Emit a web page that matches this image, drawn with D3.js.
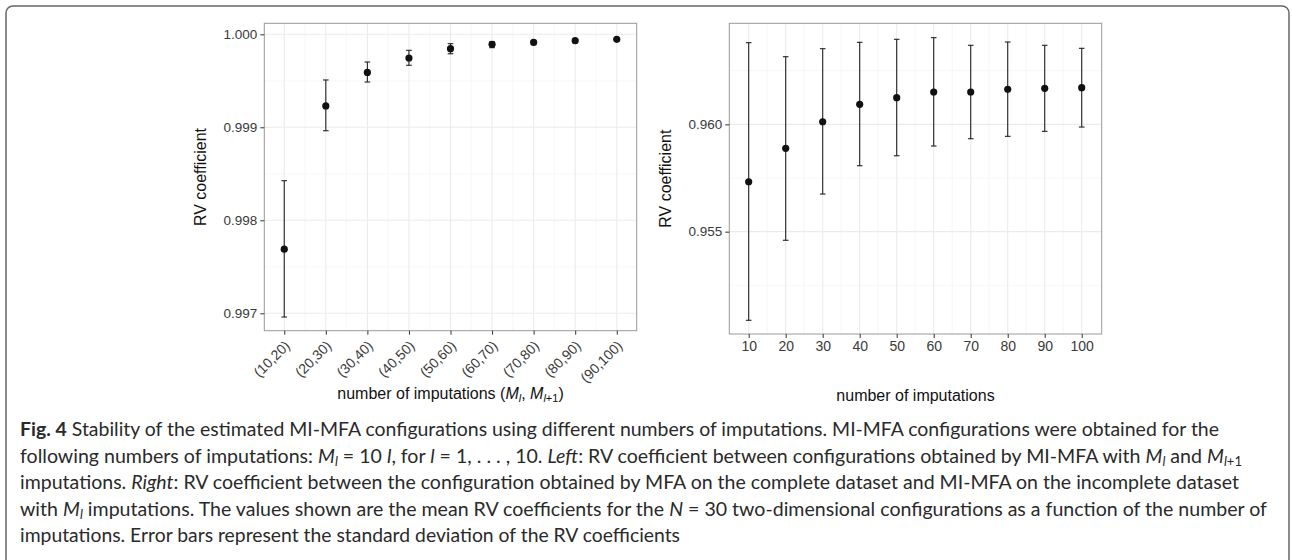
<!DOCTYPE html>
<html><head><meta charset="utf-8">
<script src="https://cdn.jsdelivr.net/npm/d3@7"></script>
<style>
html,body{margin:0;padding:0;background:#fff;}
svg{display:block;}
</style></head>
<body>
<svg id="c" width="1292" height="560"></svg>
<script>
// ---------- data ----------
const leftCats = ["(10,20)","(20,30)","(30,40)","(40,50)","(50,60)","(60,70)","(70,80)","(80,90)","(90,100)"];
const leftMean = [0.99769, 0.99923, 0.99959, 0.999745, 0.999845, 0.999892, 0.999914, 0.999931, 0.999946];
const leftLow  = [0.99696, 0.998963, 0.999487, 0.999667, 0.999791, 0.999856, 0.999888, 0.999914, 0.999935];
const leftHigh = [0.998426, 0.999509, 0.999702, 0.999828, 0.999899, 0.99992, 0.999935, 0.999946, 0.999957];
const leftTicks = [0.997, 0.998, 0.999, 1.000];
const leftMinor = [0.9975, 0.9985, 0.9995];

const rightX    = [10, 20, 30, 40, 50, 60, 70, 80, 90, 100];
const rightMean = [0.957325, 0.958882, 0.960121, 0.960932, 0.96124, 0.961505, 0.961505, 0.961631, 0.961678, 0.961706];
const rightLow  = [0.950871, 0.954599, 0.956752, 0.958071, 0.958537, 0.958989, 0.959329, 0.959441, 0.959674, 0.959874];
const rightHigh = [0.963802, 0.96315, 0.963523, 0.963821, 0.963961, 0.964036, 0.963681, 0.963835, 0.963681, 0.963541];
const rightYTicks = [0.955, 0.960];
const rightYMinor = [0.9525, 0.9575, 0.9625];
const rightXTicks = [10, 20, 30, 40, 50, 60, 70, 80, 90, 100];
const rightXMinor = [15, 25, 35, 45, 55, 65, 75, 85, 95];

const svg = d3.select("#c");
const FONT = "'Liberation Sans', Arial, sans-serif";
const GRID_MAJOR = "#ebebeb", GRID_MINOR = "#f5f5f5";

// outer frame
svg.append("rect").attr("x",6).attr("y",6).attr("width",1283).attr("height",620)
  .attr("rx",7).attr("fill","none").attr("stroke","#666").attr("stroke-width",1.5);

function panel(opt){
  const g = svg.append("g");
  const {x0,x1,y0,y1} = opt;
  opt.yMinor.forEach(v=>g.append("line").attr("x1",x0).attr("x2",x1).attr("y1",opt.y(v)).attr("y2",opt.y(v)).attr("stroke",GRID_MINOR).attr("stroke-width",0.8));
  opt.xMinor.forEach(v=>g.append("line").attr("y1",y0).attr("y2",y1).attr("x1",v).attr("x2",v).attr("stroke",GRID_MINOR).attr("stroke-width",0.8));
  opt.yTicks.forEach(v=>g.append("line").attr("x1",x0).attr("x2",x1).attr("y1",opt.y(v)).attr("y2",opt.y(v)).attr("stroke",GRID_MAJOR).attr("stroke-width",1.1));
  opt.xMajor.forEach(v=>g.append("line").attr("y1",y0).attr("y2",y1).attr("x1",v).attr("x2",v).attr("stroke",GRID_MAJOR).attr("stroke-width",1.1));
  const eb = g.append("g");
  opt.data.forEach(d=>{
    eb.append("line").attr("x1",d.x).attr("x2",d.x).attr("y1",opt.y(d.lo)).attr("y2",opt.y(d.hi)).attr("stroke","#222").attr("stroke-width",1.1);
    eb.append("line").attr("x1",d.x-2.8).attr("x2",d.x+2.8).attr("y1",opt.y(d.lo)).attr("y2",opt.y(d.lo)).attr("stroke","#222").attr("stroke-width",1.1);
    eb.append("line").attr("x1",d.x-2.8).attr("x2",d.x+2.8).attr("y1",opt.y(d.hi)).attr("y2",opt.y(d.hi)).attr("stroke","#222").attr("stroke-width",1.1);
  });
  g.append("g").selectAll("circle").data(opt.data).join("circle")
    .attr("cx",d=>d.x).attr("cy",d=>opt.y(d.m)).attr("r",3.6).attr("fill","#111");
  g.append("rect").attr("x",x0).attr("y",y0).attr("width",x1-x0).attr("height",y1-y0)
    .attr("fill","none").attr("stroke","#999").attr("stroke-width",1);
  const ya = g.append("g").attr("transform",`translate(${x0},0)`)
    .call(d3.axisLeft(opt.y).tickValues(opt.yTicks).tickFormat(d3.format(".3f")).tickSize(4).tickPadding(3));
  ya.select(".domain").remove();
  ya.selectAll("line").attr("stroke","#333");
  ya.selectAll("text").attr("font-family",FONT).attr("font-size",13.5).attr("fill","#3a3a3a");
  return g;
}

// ---------- left panel ----------
const L = {x0:264.3, x1:636.7, y0:23.3, y1:330.7};
const xl = d3.scalePoint().domain(leftCats).range([L.x0, L.x1]).padding(0.48);
const yl = d3.scaleLinear().domain([0.996813, 1.0001183]).range([L.y1, L.y0]);
const leftData = leftCats.map((c,i)=>({x:xl(c), m:leftMean[i], lo:leftLow[i], hi:leftHigh[i]}));
const stepL = xl.step();
panel({...L, y:yl, yTicks:leftTicks, yMinor:leftMinor,
  xMajor: leftCats.map(c=>xl(c)),
  xMinor: leftCats.slice(1).map(c=>xl(c)-stepL/2),
  data:leftData});
const xla = svg.append("g").attr("transform",`translate(0,${L.y1})`)
  .call(d3.axisBottom(xl).tickSize(4).tickPadding(3));
xla.select(".domain").remove();
xla.selectAll("line").attr("stroke","#333");
xla.selectAll("text").attr("font-family",FONT).attr("font-size",14).attr("fill","#3a3a3a")
  .attr("text-anchor","end").attr("dy",null).attr("y",null)
  .attr("transform","translate(6,16) rotate(-45)");

// ---------- right panel ----------
const R = {x0:729.3, x1:1101.7, y0:23.3, y1:334};
const xr = d3.scaleLinear().domain([4.76, 105.4]).range([R.x0, R.x1]);
const yr = d3.scaleLinear().domain([0.950233, 0.964706]).range([R.y1, R.y0]);
const rightData = rightX.map((v,i)=>({x:xr(v), m:rightMean[i], lo:rightLow[i], hi:rightHigh[i]}));
panel({...R, y:yr, yTicks:rightYTicks, yMinor:rightYMinor,
  xMajor: rightXTicks.map(v=>xr(v)), xMinor: rightXMinor.map(v=>xr(v)), data:rightData});
const xra = svg.append("g").attr("transform",`translate(0,${R.y1})`)
  .call(d3.axisBottom(xr).tickValues(rightXTicks).tickFormat(d3.format("d")).tickSize(4).tickPadding(3));
xra.select(".domain").remove();
xra.selectAll("line").attr("stroke","#333");
xra.selectAll("text").attr("font-family",FONT).attr("font-size",14).attr("fill","#3a3a3a");

// ---------- axis titles ----------
function ytitle(x, y){
  svg.append("text").attr("transform",`translate(${x},${y}) rotate(-90)`)
    .attr("text-anchor","middle").attr("dy","0.35em")
    .attr("font-family",FONT).attr("font-size",16).attr("fill","#111").text("RV coefficient");
}
ytitle(200, (L.y0+L.y1)/2);
ytitle(665, (R.y0+R.y1)/2);

const xtL = svg.append("text").attr("x",(L.x0+L.x1)/2).attr("y",399).attr("text-anchor","middle")
  .attr("font-family",FONT).attr("font-size",16).attr("fill","#111");
xtL.append("tspan").text("number of imputations (");
xtL.append("tspan").attr("font-style","italic").text("M");
xtL.append("tspan").attr("font-style","italic").attr("font-size",11).attr("dy",3).text("l");
xtL.append("tspan").attr("dy",-3).text(", ");
xtL.append("tspan").attr("font-style","italic").text("M");
xtL.append("tspan").attr("font-style","italic").attr("font-size",11).attr("dy",3).text("l");
xtL.append("tspan").attr("font-size",11).text("+1");
xtL.append("tspan").attr("dy",-3).text(")");

svg.append("text").attr("x",(R.x0+R.x1)/2).attr("y",401).attr("text-anchor","middle")
  .attr("font-family",FONT).attr("font-size",16).attr("fill","#111").text("number of imputations");

// ---------- caption ----------
const CF = "Lato, 'Open Sans', sans-serif";
const capLines = [
  {y:436, w:1199, parts:[["Fig. 4","b"],[" Stability of the estimated MI-MFA configurations using different numbers of imputations. MI-MFA configurations were obtained for the"]]},
  {y:462.5, w:1222, parts:[["following numbers of imputations: "],["M","i"],["l","is"],[" = 10 ","r"],["l","i"],[", for "],["l","i"],[" = 1, . . . , 10. "],["Left","i"],[": RV coefficient between configurations obtained by MI-MFA with "],["M","i"],["l","is"],[" and ","r"],["M","i"],["l","is"],["+1","s"]]},
  {y:489, w:1219, parts:[["imputations. "],["Right","i"],[": RV coefficient between the configuration obtained by MFA on the complete dataset and MI-MFA on the incomplete dataset"]]},
  {y:515.5, w:1247, parts:[["with "],["M","i"],["l","is"],[" imputations. The values shown are the mean RV coefficients for the ","r"],["N","i"],[" = 30 two-dimensional configurations as a function of the number of"]]},
  {y:542, w:660, parts:[["imputations. Error bars represent the standard deviation of the RV coefficients"]]}
];
capLines.forEach(line=>{
  const t = svg.append("text").attr("x",20).attr("y",line.y)
    .attr("font-family",CF).attr("font-size",19.5).attr("fill","#2a2a2a");
  let sub = false;
  line.parts.forEach(([txt, st])=>{
    const sp = t.append("tspan").text(txt);
    const isSub = st && st.includes("s") && st !== "r";
    if (st && st.includes("b")) sp.attr("font-weight","bold");
    if (st && st.startsWith("i")) sp.attr("font-style","italic");
    if (isSub) { sp.attr("font-size",13); if(!sub){ sp.attr("dy",3); sub=true; } }
    else if (sub) { sp.attr("dy",-3); sub=false; }
  });
  t.attr("textLength",line.w).attr("lengthAdjust","spacingAndGlyphs");
});
</script>
</body></html>
